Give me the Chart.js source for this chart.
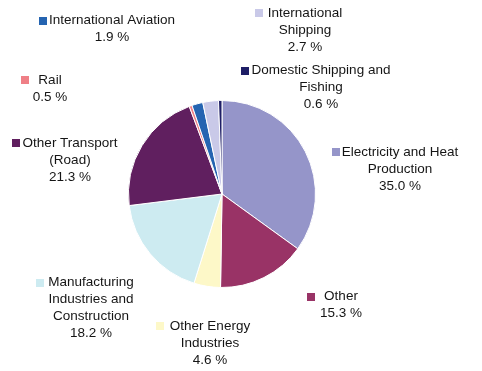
<!DOCTYPE html>
<html>
<head>
<meta charset="utf-8">
<script src="https://cdn.jsdelivr.net/npm/chart.js@4"></script>
<style>
  html, body { margin: 0; padding: 0; background: #fff; }
  #wrap { width: 482px; height: 371px; }
</style>
</head>
<body>
<div id="wrap"><canvas id="pie" width="482" height="371"></canvas></div>
<script>
/* ---------- data ---------- */
const sectors = [
  'Electricity and Heat Production',
  'Other',
  'Other Energy Industries',
  'Manufacturing Industries and Construction',
  'Other Transport (Road)',
  'Rail',
  'International Aviation',
  'International Shipping',
  'Domestic Shipping and Fishing'
];
const shares = [35.0, 15.3, 4.6, 18.2, 21.3, 0.5, 1.9, 2.7, 0.6];
const sliceColors = ['#9595c9', '#993366', '#fdf8c8', '#cdebf1', '#601f5f',
                     '#ef7f86', '#2564b1', '#c9c9e8', '#1e1e66'];

/* ---------- label layout (how each name wraps + where it sits) ---------- */
const labelLines = [
  ['Electricity and Heat', 'Production'],
  ['Other'],
  ['Other Energy', 'Industries'],
  ['Manufacturing', 'Industries and', 'Construction'],
  ['Other Transport', '(Road)'],
  ['Rail'],
  ['International Aviation'],
  ['International', 'Shipping'],
  ['Domestic Shipping and', 'Fishing']
];
// [centre x, first baseline y, key x, key y]
const labelPos = [
  [400, 156, 332, 148],
  [341, 300, 307, 293],
  [210, 330, 156, 322],
  [91, 286, 36, 279],
  [70, 147, 12, 139],
  [50, 84, 21, 76],
  [112, 24, 39, 17],
  [305, 17, 255, 9],
  [321, 74, 241, 67]
];

// draws the outside labels with their little colour keys
const sliceLabels = {
  id: 'sliceLabels',
  afterDraw(chart) {
    const ctx = chart.ctx;
    ctx.save();
    ctx.font = '13.5px "Liberation Sans", Arial, sans-serif';
    ctx.textAlign = 'center';
    ctx.textBaseline = 'alphabetic';
    shares.forEach((v, i) => {
      const [cx, y0, kx, ky] = labelPos[i];
      ctx.fillStyle = sliceColors[i];
      ctx.fillRect(kx, ky, 8, 8);
      ctx.fillStyle = '#151515';
      const lines = labelLines[i].concat([v.toFixed(1) + ' %']);
      lines.forEach((t, j) => ctx.fillText(t, cx, y0 + j * 17));
    });
    ctx.restore();
  }
};

new Chart(document.getElementById('pie'), {
  type: 'pie',
  data: {
    labels: sectors,
    datasets: [{
      data: shares,
      backgroundColor: sliceColors,
      borderColor: '#ffffff',
      borderWidth: 1
    }]
  },
  options: {
    responsive: false,
    animation: false,
    layout: { padding: { left: 128, right: 166, top: 100, bottom: 83 } },
    plugins: {
      legend: { display: false },
      tooltip: { enabled: false }
    }
  },
  plugins: [sliceLabels]
});
</script>
</body>
</html>
